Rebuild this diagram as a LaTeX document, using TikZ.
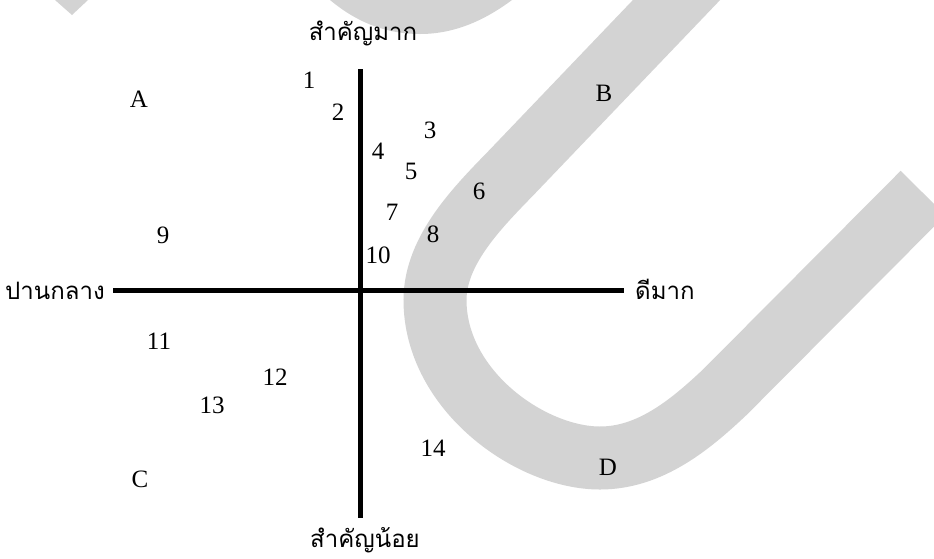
\documentclass[tikz,border=0pt]{standalone}
\usepackage{fontspec}
\setmainfont{Liberation Serif}
\newfontfamily\thaifont[Script=Thai]{Loma}
\usepackage{tikz}
\definecolor{wmgray}{RGB}{211,211,211}

\tikzset{
  axis/.style={line width=5pt, color=black},
  numlab/.style={inner sep=0pt, font=\fontsize{25}{30}\selectfont},
  thlab/.style={inner sep=0pt, font=\thaifont\fontsize{24}{30}\selectfont},
}

\begin{document}
\begin{tikzpicture}[x=1pt,y=-1pt]
\useasboundingbox (0,0) rectangle (934,558);

% Watermark in the background
\begin{scope}
\clip (0,0) rectangle (934,558);
\draw[wmgray, line width=63pt] (710,-35) -- (512,172)
  .. controls (478,207) and (435,250) .. (435,300)
  .. controls (435,390) and (530,458) .. (600,458)
  .. controls (650,458) and (690,425) .. (725,392) -- (923,193);
\fill[wmgray] (330,0) .. controls (360,25) and (390,34) .. (420,34)
  .. controls (455,34) and (485,20) .. (512,0) -- cycle;
\fill[wmgray] (55,0) -- (72,15) -- (88,0) -- cycle;
\end{scope}

% Axes
\coordinate (ytop) at (360,69);
\coordinate (ybot) at (360,518);
\coordinate (xleft) at (113,290);
\coordinate (xright) at (624,290);
\draw[axis] (ytop) -- (ybot);
\draw[axis] (xleft) -- (xright);

% Axis labels
\node[thlab] (imphigh) at (363,33) {สำคัญมาก};
\node[thlab] (implow) at (365,540) {สำคัญน้อย};
\node[thlab, anchor=east] (perfmid) at (105,291) {ปานกลาง};
\node[thlab, anchor=west] (perfgood) at (635,289) {ดีมาก};

% Quadrants
\node[numlab] (qa) at (139,99) {A};
\node[numlab] (qb) at (604,93) {B};
\node[numlab] (qc) at (140,479) {C};
\node[numlab] (qd) at (608,467) {D};

% Items
\node[numlab] (i1) at (309,80) {1};
\node[numlab] (i2) at (338,112) {2};
\node[numlab] (i3) at (430,130) {3};
\node[numlab] (i4) at (378,151) {4};
\node[numlab] (i5) at (411,171) {5};
\node[numlab] (i6) at (479,191) {6};
\node[numlab] (i7) at (392,212) {7};
\node[numlab] (i8) at (433,234) {8};
\node[numlab] (i9) at (163,235) {9};
\node[numlab] (i10) at (378,255) {10};
\node[numlab] (i11) at (159,341) {11};
\node[numlab] (i12) at (275,377) {12};
\node[numlab] (i13) at (212,405) {13};
\node[numlab] (i14) at (433,448) {14};

\end{tikzpicture}
\end{document}
